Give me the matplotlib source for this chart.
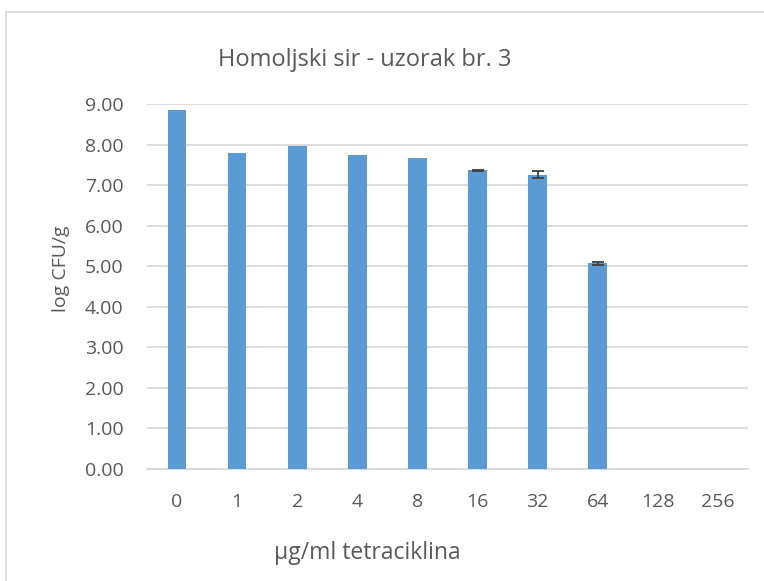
import matplotlib.pyplot as plt
from matplotlib.patches import Rectangle
import numpy as np

plt.rcParams['font.family'] = ['Open Sans', 'DejaVu Sans']

# data
categories = ['0', '1', '2', '4', '8', '16', '32', '64', '128', '256']
log_cfu = [8.85, 7.79, 7.96, 7.74, 7.67, 7.37, 7.26, 5.07, 0, 0]
err = [0, 0, 0, 0, 0, 0.01, 0.09, 0.04, 0, 0]

title = 'Homoljski sir - uzorak br. 3'
xlabel = 'µg/ml tetraciklina'
ylabel = 'log CFU/g'

bar_color = '#5B9BD5'
text_color = '#595959'
grid_color = '#D9D9D9'

W, H = 764, 581
fig = plt.figure(figsize=(W / 100, H / 100), dpi=100)

# outer chart frame (runs off right and bottom edges)
fig.patches.append(Rectangle((6 / W, -0.2), 1.2, (H - 12) / H + 0.2,
                             transform=fig.transFigure, fill=False,
                             edgecolor=grid_color, linewidth=1.3))

ax = fig.add_axes([147 / W, (H - 469) / H, 601 / W, 365 / H])
x = np.arange(len(categories))
ax.bar(x, log_cfu, width=0.31, color=bar_color, zorder=3)

idx = [i for i, e in enumerate(err) if e > 0]
ax.errorbar(x[idx], [log_cfu[i] for i in idx], yerr=[err[i] for i in idx],
            fmt='none', ecolor='#404040', elinewidth=1.3, capsize=4.5,
            capthick=1.3, zorder=4)

ax.set_xlim(-0.5, len(categories) - 0.5)
ax.set_ylim(0, 9)
ax.set_yticks(np.arange(0, 10, 1))
ax.set_yticklabels([f'{v:.2f}' for v in range(10)])
ax.set_xticks(x)
ax.set_xticklabels(categories)
ax.tick_params(length=0, labelsize=14, labelcolor=text_color)
ax.tick_params(axis='x', pad=17)
ax.tick_params(axis='y', pad=17)
ax.grid(axis='y', color=grid_color, linewidth=1.3, zorder=0)
for s in ['left', 'right', 'top']:
    ax.spines[s].set_visible(False)
ax.spines['bottom'].set_color(grid_color)
ax.spines['bottom'].set_linewidth(1.3)
ax.spines['bottom'].set_zorder(1)

fig.text(365 / W, 1 - 60 / H, title, ha='center', va='center',
         fontsize=17, color=text_color)
fig.text(367 / W, 1 - 553 / H, xlabel, ha='center', va='center',
         fontsize=16.5, color=text_color)
fig.text(61 / W, 1 - 269 / H, ylabel, ha='center', va='center',
         rotation=90, fontsize=14, color=text_color)

fig.savefig('out.png', dpi=100)
